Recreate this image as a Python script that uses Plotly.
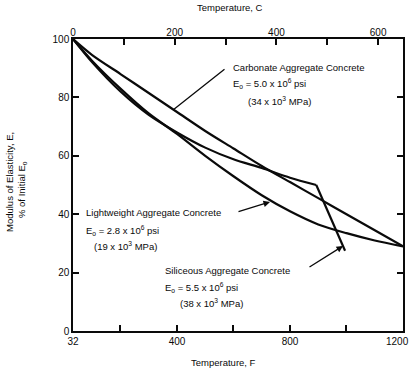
import plotly.graph_objects as go

# Data (temperature in deg F, modulus as % of initial)
carb_T = [32, 100, 200, 300, 400, 500, 600, 700, 800, 900, 1000, 1100, 1200]
carb_E = [100, 94.5, 88, 81.5, 75, 68.5, 62.5, 56.5, 51, 45.5, 40, 34.5, 29]

light_T = [32, 100, 200, 300, 400, 500, 600, 700, 800, 900, 1000, 1100, 1200]
light_E = [100, 92.5, 83, 74.5, 67.5, 60, 53, 46.5, 41, 36.5, 33.5, 31, 29]

sil_T = [32, 100, 200, 300, 400, 500, 600, 700, 800, 893, 995]
sil_E = [100, 92, 82, 74, 68, 62.8, 58.8, 55.8, 52.5, 50, 27.5]

x_ticks_F = [32, 200, 400, 600, 800, 1000, 1200]
x_labels_F = ["32", "", "400", "", "800", "", ""]
last_F_label = "1200"
x_ticks_C = [0, 100, 200, 300, 400, 500, 600]
x_labels_C = ["0", "", "200", "", "400", "", "600"]
y_ticks = [0, 20, 40, 60, 80, 100]

F_MIN, F_MAX = 32, 1200
C_MAX = (F_MAX - 32) / 1.8

W, H = 412, 368
ML, MR, MT, MB = 73, 9, 39, 37
PW, PH = W - ML - MR, H - MT - MB


def px(x):
    return (x - ML) / PW


def py(y):
    return (H - MB - y) / PH


FONT = "Liberation Sans"
INK = "#0a0a0a"
line = dict(color=INK, width=2.2)

fig = go.Figure()
fig.add_trace(go.Scatter(x=carb_T, y=carb_E, mode="lines", line=dict(**line, shape="spline", smoothing=0.8)))
fig.add_trace(go.Scatter(x=light_T, y=light_E, mode="lines", line=dict(**line, shape="spline", smoothing=0.8)))
fig.add_trace(go.Scatter(x=sil_T[:-1], y=sil_E[:-1], mode="lines", line=dict(**line, shape="spline", smoothing=0.8)))
fig.add_trace(go.Scatter(x=sil_T[-2:], y=sil_E[-2:], mode="lines", line=dict(**line)))
# dummy trace for top axis
fig.add_trace(go.Scatter(x=[0, C_MAX], y=[None, None], xaxis="x2", mode="lines", showlegend=False))

tf = dict(family=FONT, size=10, color=INK)
fig.update_layout(
    width=W, height=H,
    margin=dict(l=ML, r=MR, t=MT, b=MB, autoexpand=False),
    paper_bgcolor="white", plot_bgcolor="white",
    showlegend=False,
    font=tf,
    xaxis=dict(range=[F_MIN, F_MAX], tickvals=x_ticks_F, ticktext=x_labels_F,
               ticks="inside", ticklen=6, tickwidth=1.5, tickcolor=INK,
               showline=True, linecolor=INK, linewidth=1.5, mirror=True,
               showgrid=False, zeroline=False, tickfont=tf, automargin=False),
    xaxis2=dict(range=[0, C_MAX], overlaying="x", side="top", tickvals=x_ticks_C,
                ticktext=x_labels_C, ticks="inside", ticklen=6, tickwidth=1.5,
                tickcolor=INK, showgrid=False, zeroline=False, tickfont=tf,
                automargin=False),
    yaxis=dict(range=[0, 100], tickvals=y_ticks, ticks="inside", ticklen=6,
               tickwidth=1.5, tickcolor=INK, showline=True, linecolor=INK,
               linewidth=1.5, mirror="ticks", showgrid=False, zeroline=False,
               tickfont=tf, automargin=False),
)

# last bottom tick label, kept inside the page
fig.add_annotation(x=px(411), y=py(341), xref="paper", yref="paper",
                   text=last_F_label, showarrow=False, font=tf,
                   xanchor="right", yanchor="middle")

af = dict(family=FONT, size=9.5, color=INK)
for x, y, t in [(230, 8, "Temperature, C"), (223, 362, "Temperature, F")]:
    fig.add_annotation(x=px(x), y=py(y), xref="paper", yref="paper",
                       text=t, showarrow=False, font=af,
                       xanchor="center", yanchor="middle")

fig.add_annotation(x=px(9), y=py(182), xref="paper", yref="paper",
                   text="Modulus of Elasticity, E,", textangle=-90, showarrow=False,
                   font=af, xanchor="center", yanchor="middle")
fig.add_annotation(x=px(22), y=py(190), xref="paper", yref="paper",
                   text="% of Initial E<sub>o</sub>", textangle=-90, showarrow=False,
                   font=af, xanchor="center", yanchor="middle")

labels = [
    (231, 68, "Carbonate Aggregate Concrete"),
    (231, 84, "E<sub>o</sub> = 5.0 x 10<sup>6</sup> psi"),
    (246, 101, "(34 x 10<sup>3</sup> MPa)"),
    (84, 213, "Lightweight Aggregate Concrete"),
    (84, 230, "E<sub>o</sub> = 2.8 x 10<sup>6</sup> psi"),
    (92, 246, "(19 x 10<sup>3</sup> MPa)"),
    (163, 270, "Siliceous Aggregate Concrete"),
    (163, 287, "E<sub>o</sub> = 5.5 x 10<sup>6</sup> psi"),
    (178, 303, "(38 x 10<sup>3</sup> MPa)"),
]
for x, y, t in labels:
    fig.add_annotation(x=px(x), y=py(y), xref="paper", yref="paper", text=t,
                       showarrow=False, font=af, xanchor="left", yanchor="middle")

# leader lines: tip in page px, tail as pixel offset
leaders = [((226, 68), (173, 110), False), ((237, 212), (270, 202), True), ((308, 268), (343, 246), True)]
for (x0, y0), (x1, y1), head in leaders:
    fig.add_annotation(x=px(x1), y=py(y1), ax=x0 - x1, ay=y0 - y1,
                       xref="paper", yref="paper", axref="pixel", ayref="pixel",
                       text="", showarrow=True, arrowhead=2 if head else 0,
                       arrowsize=1, arrowwidth=1.3, arrowcolor=INK, standoff=0)

fig.write_html("out.html")
